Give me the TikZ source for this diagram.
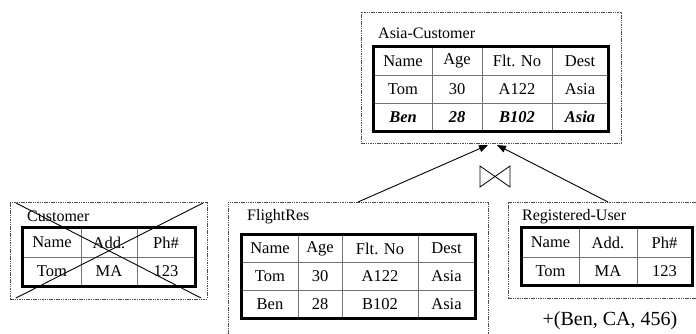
\documentclass[tikz,border=0pt]{standalone}
\usepackage{fontspec}
\setmainfont{Liberation Serif}
\usetikzlibrary{arrows.meta}
\tikzset{
  dbox/.style={draw=black!70, dash pattern=on 1.5pt off 0.8pt, line width=0.7pt, rectangle, inner sep=0pt},
  cell/.style={draw=black!55, line width=0.9pt, inner sep=0pt, font=\fontsize{16.5}{19}\selectfont},
  outer/.style={draw=black, line width=2.6pt},
  ttl/.style={anchor=west, inner sep=0pt, font=\fontsize{16}{19}\selectfont},
  arr/.style={line width=0.9pt, -{Triangle[length=9pt,width=7pt]}},
  xline/.style={line width=0.9pt},
}
\newcommand\tcell[6]{\node[cell, minimum width={(#4)-(#2)}, minimum height={(#5)-(#3)}] (#1) at ({((#2)+(#4))/2},{((#3)+(#5))/2}) {#6};}
\begin{document}
\begin{tikzpicture}[x=1pt,y=-1pt]
\useasboundingbox (0,0) rectangle (696,334);
% ---------- Asia-Customer ----------
\node[dbox, minimum width=260, minimum height=131] (asiabox) at (491,77.5) {};
\node[ttl] (asiat) at (378,33) {Asia-Customer};
\tcell{a11}{374}{47}{432}{75}{Name}
\tcell{a12}{432}{47}{482}{75}{Age}
\tcell{a13}{482}{47}{552}{75}{Flt. No}
\tcell{a14}{552}{47}{608}{75}{Dest}
\tcell{a21}{374}{75}{432}{103}{Tom}
\tcell{a22}{432}{75}{482}{103}{30}
\tcell{a23}{482}{75}{552}{103}{A122}
\tcell{a24}{552}{75}{608}{103}{Asia}
\tcell{a31}{374}{103}{432}{131}{\textbf{\textit{Ben}}}
\tcell{a32}{432}{103}{482}{131}{\textbf{\textit{28}}}
\tcell{a33}{482}{103}{552}{131}{\textbf{\textit{B102}}}
\tcell{a34}{552}{103}{608}{131}{\textbf{\textit{Asia}}}
\draw[outer] (a11.north west) rectangle (a34.south east);
% ---------- Customer ----------
\node[dbox, minimum width=197, minimum height=97] (custbox) at (108.5,250.5) {};
\node[ttl] (custt) at (27,216) {Customer};
\tcell{c11}{23}{228}{81}{257}{Name}
\tcell{c12}{81}{228}{137}{257}{Add.}
\tcell{c13}{137}{228}{195}{257}{Ph\#}
\tcell{c21}{23}{257}{81}{286}{Tom}
\tcell{c22}{81}{257}{137}{286}{MA}
\tcell{c23}{137}{257}{195}{286}{123}
\draw[outer] (c11.north west) rectangle (c23.south east);
\coordinate (x1) at (16,203);
\coordinate (x2) at (201,298);
\coordinate (x3) at (16,298);
\coordinate (x4) at (203,203);
\draw[xline] (x1) -- (x2);
\draw[xline] (x3) -- (x4);
% ---------- FlightRes ----------
\node[dbox, minimum width=260, minimum height=150] (flightbox) at (358,277) {};
\node[ttl] (flightt) at (247,217) {FlightRes};
\tcell{f11}{242}{235}{298}{262}{Name}
\tcell{f12}{298}{235}{342}{262}{Age}
\tcell{f13}{342}{235}{418}{262}{Flt. No}
\tcell{f14}{418}{235}{475}{262}{Dest}
\tcell{f21}{242}{262}{298}{290}{Tom}
\tcell{f22}{298}{262}{342}{290}{30}
\tcell{f23}{342}{262}{418}{290}{A122}
\tcell{f24}{418}{262}{475}{290}{Asia}
\tcell{f31}{242}{290}{298}{318}{Ben}
\tcell{f32}{298}{290}{342}{318}{28}
\tcell{f33}{342}{290}{418}{318}{B102}
\tcell{f34}{418}{290}{475}{318}{Asia}
\draw[outer] (f11.north west) rectangle (f34.south east);
% ---------- Registered-User ----------
\node[dbox, minimum width=200, minimum height=96] (regbox) at (608,250) {};
\node[ttl] (regt) at (522,217) {Registered-User};
\tcell{r11}{522}{228}{579}{257}{Name}
\tcell{r12}{579}{228}{637}{257}{Add.}
\tcell{r13}{637}{228}{692}{257}{Ph\#}
\tcell{r21}{522}{257}{579}{285}{Tom}
\tcell{r22}{579}{257}{637}{285}{MA}
\tcell{r23}{637}{257}{692}{285}{123}
\draw[outer] (r11.north west) rectangle (r23.south east);
\node[inner sep=0pt, font=\fontsize{20}{23}\selectfont] (plus) at (610,321) {+(Ben, CA, 456)};
% ---------- arrows and join ----------
\coordinate (fs) at (358,202);
\coordinate (ft) at (488,145);
\coordinate (rs) at (608,202);
\coordinate (rt) at (497,145);
\draw[arr] (fs) -- (ft);
\draw[arr] (rs) -- (rt);
\draw[line width=0.8pt] (480,166) -- (480,187) -- (510,166) -- (510,187) -- cycle;
\end{tikzpicture}
\end{document}
